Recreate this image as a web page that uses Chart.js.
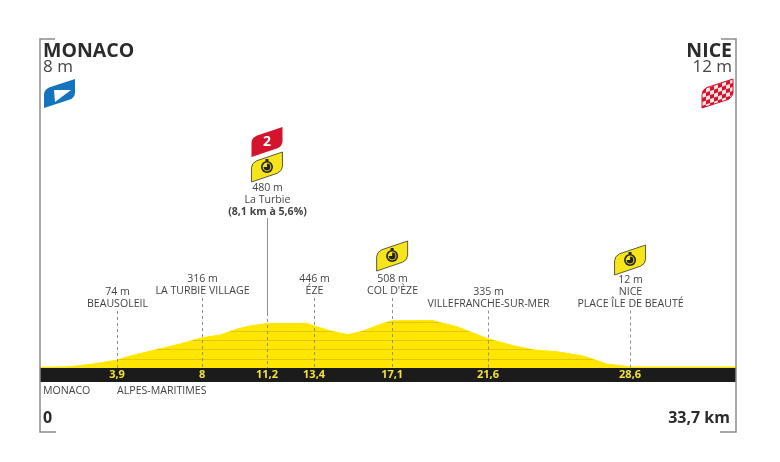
<!DOCTYPE html>
<html>
<head>
<meta charset="utf-8">
<style>
  html, body { margin: 0; background: #fff; }
  #wrap { position: relative; width: 780px; height: 462px; }
</style>
<script src="https://cdn.jsdelivr.net/npm/chart.js@4"></script>
</head>
<body>
<div id="wrap"><canvas id="profile"></canvas></div>
<script>
// road profile (km, metres)
const profileKm = [0, 1.45, 2.57, 3.24, 3.73, 4.36, 5.96, 6.78, 7.85, 8.72, 9.54, 10.17, 10.99, 12.93, 13.27, 14.04, 14.92, 15.64, 16.61, 17.05, 18.98, 20.19, 21.69, 22.91, 23.97, 25.04, 26.3, 27.46, 28.57, 33.7];
const profileElev = [8, 14, 43, 68, 85, 129, 215, 258, 326, 355, 419, 452, 480, 480, 452, 400, 358, 398, 480, 508, 512, 444, 315, 240, 193, 175, 129, 43, 12, 12];

// where the markers sit on the drawn axis, and what they are labelled
const markerKm = [3.73, 7.85, 10.99, 13.27, 17.05, 21.69, 28.57];
const markerLabels = ["3,9", "8", "11,2", "13,4", "17,1", "21,6", "28,6"];
const markerText = [
  ["74 m", "BEAUSOLEIL"],
  ["316 m", "LA TURBIE VILLAGE"],
  ["480 m", "La Turbie", "(8,1 km à 5,6%)"],
  ["446 m", "ÉZE"],
  ["508 m", "COL D'ÈZE"],
  ["335 m", "VILLEFRANCHE-SUR-MER"],
  ["12 m", "NICE", "PLACE ÎLE DE BEAUTÉ"],
];
const contourLevels = [100, 200, 300, 400, 500];
const totalKm = 33.7;

const GREY = "#444";
const FONT = '"Open Sans", sans-serif';

function text(ctx, str, x, y, font, align, color) {
  ctx.font = font;
  ctx.textAlign = align || "center";
  ctx.textBaseline = "middle";
  ctx.fillStyle = color || GREY;
  ctx.fillText(str, x, y);
}

// slanted pennant with rounded top left and bottom right corners, x/y is the top left of its box
function flagPath(ctx, x, y, w, h) {
  const rise = h * 0.36;
  ctx.beginPath();
  ctx.moveTo(x, y + rise + 5);
  ctx.quadraticCurveTo(x, y + rise + 0.5, x + 5, y + rise - 2);
  ctx.lineTo(x + w, y);
  ctx.lineTo(x + w, y + h - rise - 5);
  ctx.quadraticCurveTo(x + w, y + h - rise - 0.5, x + w - 5, y + h - rise + 2);
  ctx.lineTo(x, y + h);
  ctx.closePath();
}

function clockFlag(ctx, cx, y) {
  flagPath(ctx, cx - 15.5, y, 31, 30);
  ctx.fillStyle = "#f7e51b";
  ctx.fill();
  ctx.strokeStyle = "#333";
  ctx.lineWidth = 0.8;
  ctx.stroke();
  const cy = y + 15;
  ctx.fillStyle = "#222";
  ctx.fillRect(cx - 1.5, cy - 8, 3, 2.5);
  ctx.beginPath();
  ctx.arc(cx, cy, 6, 0, Math.PI * 2);
  ctx.fill();
  ctx.fillStyle = "#f7e51b";
  ctx.beginPath();
  ctx.arc(cx, cy, 4.4, 0, Math.PI * 2);
  ctx.fill();
  ctx.fillStyle = "#222";
  ctx.beginPath();
  ctx.moveTo(cx, cy);
  ctx.arc(cx, cy, 3.4, Math.PI * 1.5, Math.PI * 3);
  ctx.closePath();
  ctx.fill();
}

const decorations = {
  id: "decorations",
  afterDatasetsDraw(chart) {
    const { ctx, chartArea: a, scales: { x, y } } = chart;
    const base = y.getPixelForValue(0);
    ctx.save();

    // contour lines, only inside the yellow area
    ctx.save();
    ctx.beginPath();
    ctx.moveTo(x.getPixelForValue(profileKm[0]), base);
    profileKm.forEach((km, i) => ctx.lineTo(x.getPixelForValue(km), y.getPixelForValue(profileElev[i])));
    ctx.lineTo(x.getPixelForValue(totalKm), base);
    ctx.closePath();
    ctx.clip();
    ctx.strokeStyle = "#e2c800";
    ctx.lineWidth = 1;
    contourLevels.forEach((lvl) => {
      const py = Math.round(y.getPixelForValue(lvl)) + 0.5;
      ctx.beginPath();
      ctx.moveTo(a.left, py);
      ctx.lineTo(a.right, py);
      ctx.stroke();
    });
    ctx.restore();

    // frame corners
    ctx.strokeStyle = "#8c8c8c";
    ctx.lineWidth = 1.5;
    ctx.beginPath();
    ctx.moveTo(a.left + 15, a.top);
    ctx.lineTo(a.left, a.top);
    ctx.lineTo(a.left, a.bottom);
    ctx.lineTo(a.left + 16, a.bottom);
    ctx.moveTo(a.right - 15, a.top);
    ctx.lineTo(a.right, a.top);
    ctx.lineTo(a.right, a.bottom);
    ctx.lineTo(a.right - 16, a.bottom);
    ctx.stroke();

    // marker labels and drop lines
    const blockBottom = [304, 291, 211.5, 291, 291, 303.5, 303.5];
    markerKm.forEach((km, i) => {
      const px = Math.round(x.getPixelForValue(km)) + 0.5;
      const lines = markerText[i];
      lines.forEach((line, j) => {
        const bold = line.startsWith("(");
        text(ctx, line, px, blockBottom[i] - (lines.length - 1 - j) * 12,
          (bold ? "bold " : "") + "10.6px " + FONT);
      });
      ctx.strokeStyle = "#8f8f8f";
      ctx.lineWidth = 1;
      if (i === 2) {
        ctx.beginPath();
        ctx.moveTo(px, 218);
        ctx.lineTo(px, 313);
        ctx.stroke();
      }
      ctx.setLineDash([3, 3]);
      ctx.beginPath();
      ctx.moveTo(px, i === 2 ? 313 : blockBottom[i] + 7);
      ctx.lineTo(px, base);
      ctx.stroke();
      ctx.setLineDash([]);
    });

    // start and finish headers
    text(ctx, "MONACO", a.left + 3, 51, "bold 19.5px " + FONT, "left", "#2b2b2b");
    text(ctx, "8 m", a.left + 3, 67, "17px " + FONT, "left");
    text(ctx, "NICE", a.right - 4, 51, "bold 19.5px " + FONT, "right", "#2b2b2b");
    text(ctx, "12 m", a.right - 4, 67, "17px " + FONT, "right");
    text(ctx, "MONACO", a.left + 3, 391, "10.6px " + FONT, "left");
    text(ctx, "ALPES-MARITIMES", x.getPixelForValue(markerKm[0]), 391, "10.6px " + FONT, "left");
    text(ctx, "0", a.left + 3, 418, "bold 16px " + FONT, "left", "#2b2b2b");
    text(ctx, totalKm.toString().replace(".", ",") + " km", a.right - 6, 418, "bold 16px " + FONT, "right", "#2b2b2b");

    // start flag
    flagPath(ctx, 44, 79, 31, 29);
    ctx.fillStyle = "#1474bd";
    ctx.fill();
    ctx.fillStyle = "#fff";
    ctx.beginPath();
    ctx.moveTo(54, 90);
    ctx.lineTo(71, 90);
    ctx.lineTo(55, 102);
    ctx.closePath();
    ctx.fill();

    // finish flag
    flagPath(ctx, 702, 79, 31, 29);
    ctx.save();
    ctx.clip();
    ctx.fillStyle = "#fbe3e3";
    ctx.fillRect(700, 78, 35, 32);
    ctx.fillStyle = "#d3142c";
    ctx.transform(1, -0.36, 0, 1, 702, 90);
    for (let r = -1; r < 5; r++) {
      for (let c = 0; c < 8; c++) {
        if ((r + c + 2) % 2 === 0) ctx.fillRect(c * 4, r * 4, 4, 4);
      }
    }
    ctx.restore();
    flagPath(ctx, 702, 79, 31, 29);
    ctx.strokeStyle = "#d3142c";
    ctx.lineWidth = 1;
    ctx.stroke();

    // climb flag and time bonus flags
    const turbie = x.getPixelForValue(markerKm[2]);
    flagPath(ctx, turbie - 15.5, 127, 31, 30);
    ctx.fillStyle = "#d3142c";
    ctx.fill();
    text(ctx, "2", turbie, 142, "bold 14px " + FONT, "center", "#fff");
    clockFlag(ctx, turbie, 152);
    clockFlag(ctx, x.getPixelForValue(markerKm[4]), 241);
    clockFlag(ctx, x.getPixelForValue(markerKm[6]), 245);

    ctx.restore();
  },
};

new Chart(document.getElementById("profile"), {
  type: "line",
  data: {
    datasets: [
      {
        label: "Altitude",
        data: profileKm.map((km, i) => ({ x: km, y: profileElev[i] })),
        borderWidth: 1,
        borderColor: "#ffe600",
        pointRadius: 0,
        backgroundColor: "#ffe600",
        fill: { value: 0 },
      },
      {
        label: "Bar",
        data: [{ x: 0, y: 0 }, { x: totalKm, y: 0 }],
        borderWidth: 0,
        pointRadius: 0,
        backgroundColor: "#1b1b1b",
        fill: { value: -150 },
      },
    ],
  },
  options: {
    responsive: true,
    maintainAspectRatio: false,
    animation: false,
    layout: { padding: { left: 40, right: 44, top: 39, bottom: 30 } },
    plugins: { legend: { display: false }, title: { display: false }, tooltip: { enabled: false } },
    scales: {
      x: {
        type: "linear",
        min: 0,
        max: totalKm,
        position: { y: 0 },
        grid: { display: false, drawTicks: false, tickLength: 0 },
        border: { display: false },
        afterBuildTicks: (scale) => { scale.ticks = markerKm.map((v) => ({ value: v })); },
        ticks: {
          z: 1,
          autoSkip: false,
          maxRotation: 0,
          padding: 0,
          color: "#f2e23a",
          font: { family: "Open Sans", size: 11, weight: "bold" },
          callback: (v, i) => markerLabels[i],
        },
      },
      y: { display: false, min: -688, max: 3538 },
    },
  },
  plugins: [decorations],
});
</script>
</body>
</html>
